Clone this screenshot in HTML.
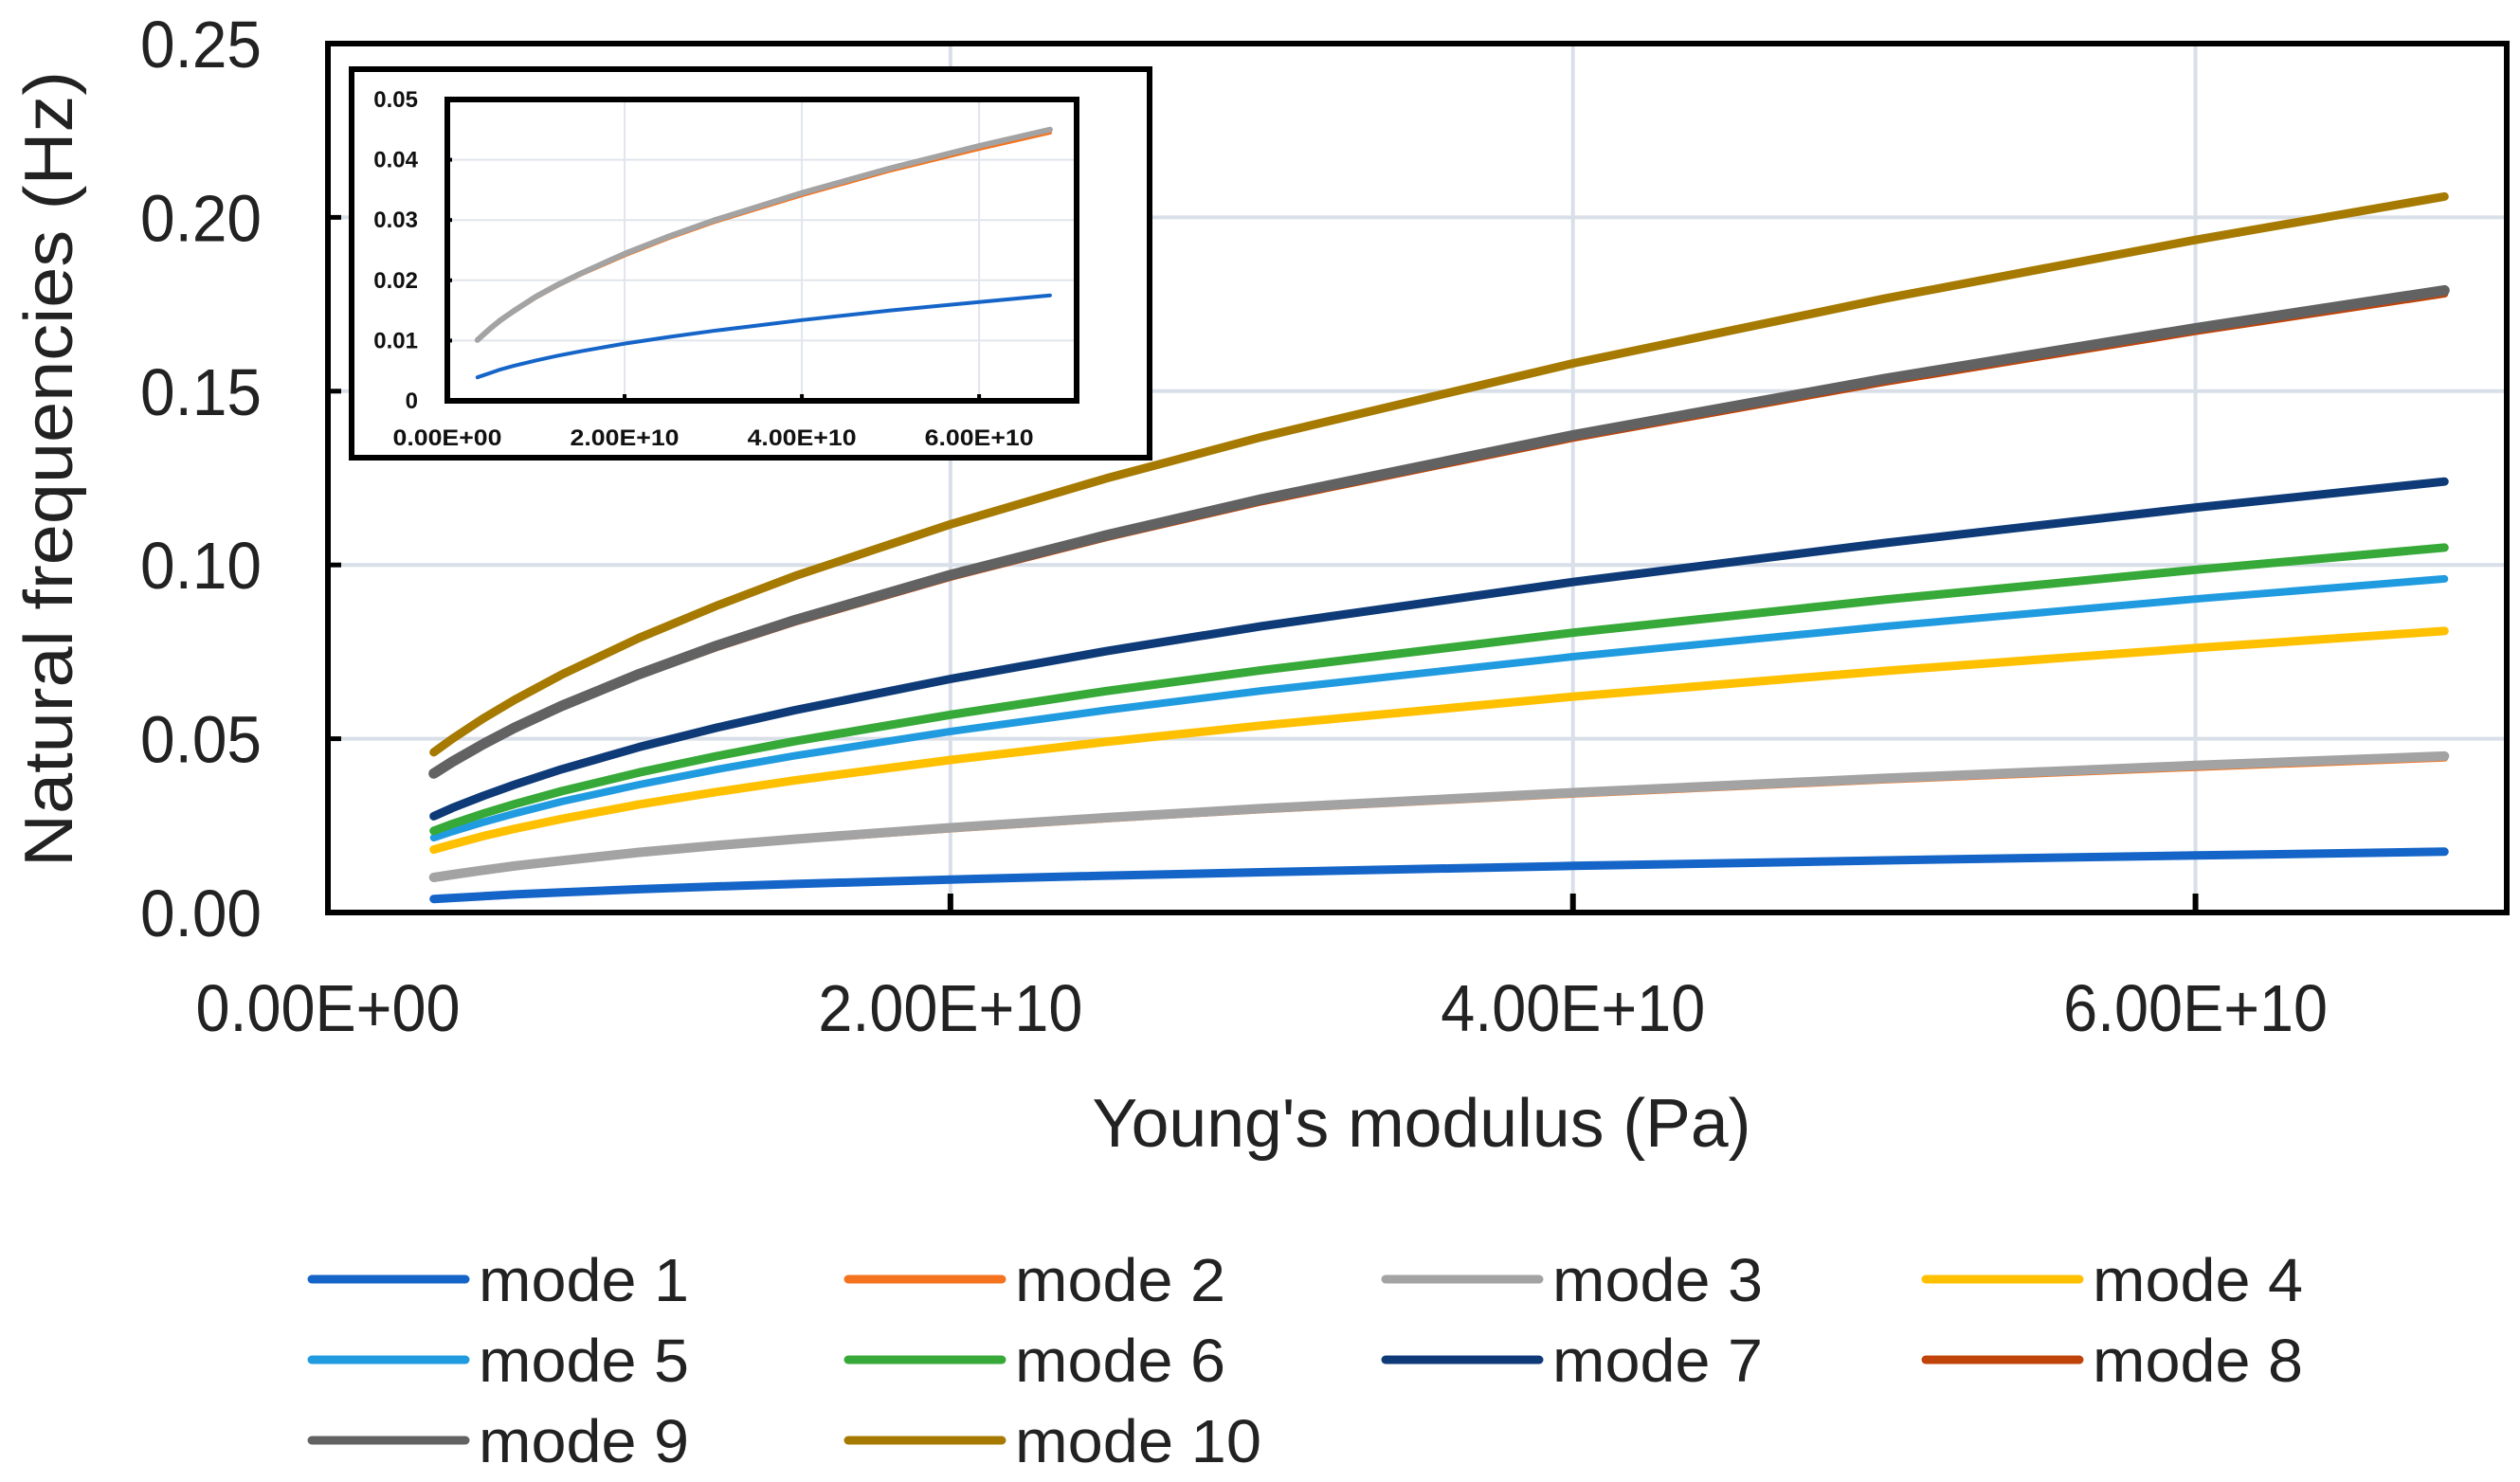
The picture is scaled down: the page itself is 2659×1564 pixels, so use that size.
<!DOCTYPE html>
<html><head><meta charset="utf-8"><style>
html,body{margin:0;padding:0;background:#fff}
svg{display:block;font-family:"Liberation Sans",sans-serif}
</style></head><body>
<svg id="chart" width="2659" height="1564" viewBox="0 0 2659 1564" xmlns="http://www.w3.org/2000/svg">
<g id="main"></g>
<g id="inset"></g>
<g id="legend"></g>
</svg>
<script>
const E = [3.4e9, 4e9, 5e9, 6e9, 7.5e9, 1e10, 1.25e10, 1.5e10, 2e10, 2.5e10, 3e10, 4e10, 5e10, 6e10, 6.8e10];
const seriesNames = ["mode 1","mode 2","mode 3","mode 4","mode 5","mode 6","mode 7","mode 8","mode 9","mode 10"];
const mode1 = [0.0039,0.0042,0.0047,0.0052,0.0058,0.0067,0.0075,0.0082,0.0095,0.0106,0.0116,0.0134,0.0150,0.0164,0.0175];
const mode2 = [0.0100,0.0108,0.0121,0.0132,0.0148,0.0171,0.0191,0.0209,0.0241,0.0270,0.0296,0.0341,0.0382,0.0418,0.0445];
const mode3 = [0.0101,0.0109,0.0122,0.0134,0.0149,0.0173,0.0193,0.0211,0.0244,0.0273,0.0299,0.0345,0.0386,0.0423,0.0450];
const mode4 = [0.0181,0.0196,0.0220,0.0241,0.0269,0.0311,0.0347,0.0380,0.0439,0.0491,0.0538,0.0621,0.0695,0.0761,0.0810];
const mode5 = [0.0215,0.0233,0.0260,0.0285,0.0319,0.0368,0.0412,0.0451,0.0521,0.0582,0.0638,0.0736,0.0823,0.0902,0.0960];
const mode6 = [0.0235,0.0255,0.0285,0.0312,0.0349,0.0403,0.0450,0.0493,0.0569,0.0637,0.0697,0.0805,0.0900,0.0986,0.1050];
const mode7 = [0.0277,0.0301,0.0336,0.0368,0.0412,0.0476,0.0532,0.0582,0.0672,0.0752,0.0824,0.0951,0.1063,0.1165,0.1240];
const mode8 = [0.0398,0.0432,0.0483,0.0529,0.0591,0.0683,0.0763,0.0836,0.0965,0.1079,0.1182,0.1365,0.1526,0.1672,0.1780];
const mode9 = [0.0400,0.0434,0.0485,0.0532,0.0594,0.0686,0.0768,0.0841,0.0971,0.1085,0.1189,0.1373,0.1535,0.1681,0.1790];
const mode10 = [0.0461,0.0500,0.0559,0.0612,0.0684,0.0790,0.0883,0.0968,0.1117,0.1249,0.1368,0.1580,0.1766,0.1935,0.2060];
const yTicks = [0, 0.05, 0.10, 0.15, 0.20, 0.25];
const yTickLabels = ["0.00","0.05","0.10","0.15","0.20","0.25"];
const xTicks = [0, 2e10, 4e10, 6e10];
const xTickLabels = ["0.00E+00","2.00E+10","4.00E+10","6.00E+10"];
const insetYTicks = [0,0.01,0.02,0.03,0.04,0.05];
const insetYTickLabels = ["0","0.01","0.02","0.03","0.04","0.05"];

const allSeries = [mode1,mode2,mode3,mode4,mode5,mode6,mode7,mode8,mode9,mode10];
const colors = ["#1565C8","#F5731F","#A3A3A3","#FFC000","#219BE0","#36A938","#0E3B78","#C0440A","#626262","#A67A00"];
const widths = [9,8,10,9,8,9,9,8,11,9];
const drawOrder = [1,2,0,3,4,5,6,7,8,9];
const NS = "http://www.w3.org/2000/svg";
function mk(tag, attrs, parent){const el=document.createElementNS(NS,tag);for(const k in attrs)el.setAttribute(k,attrs[k]);parent.appendChild(el);return el;}

const L=346,R=2645,T=46,B=963;
const xS=v=>L+(v/7e10)*(R-L);
const yS=v=>B-(v/0.25)*(B-T);
const main=document.getElementById('main');
yTicks.forEach((t,i)=>{ if(i>0){const g=mk('line',{x1:L,x2:R,y1:yS(t),y2:yS(t),stroke:'#D9DFE8','stroke-width':4},main);

}
const tx=mk('text',{x:276,y:yS(t)+25,'text-anchor':'end','font-size':70,fill:'#222',textLength:128,lengthAdjust:'spacingAndGlyphs'},main);tx.textContent=yTickLabels[i];


const tk=mk('line',{x1:L,x2:L+14,y1:yS(t),y2:yS(t),stroke:'#000','stroke-width':5},main);


});
xTicks.forEach((t,i)=>{ if(i>0){const g=mk('line',{x1:xS(t),x2:xS(t),y1:T,y2:B,stroke:'#D9DFE8','stroke-width':4},main);

}
const tx=mk('text',{x:xS(t),y:1088,'text-anchor':'middle','font-size':70,fill:'#222',textLength:279,lengthAdjust:'spacingAndGlyphs'},main);tx.textContent=xTickLabels[i];


const tk=mk('line',{x1:xS(t),x2:xS(t),y1:B,y2:B-20,stroke:'#000','stroke-width':6},main);


});
drawOrder.forEach(si=>{
  const d=E.map((e,j)=>(j?'L':'M')+xS(e).toFixed(1)+' '+yS(allSeries[si][j]).toFixed(1)).join(' ');
  const p=mk('path',{d:d,fill:'none',stroke:colors[si],'stroke-width':widths[si],'stroke-linecap':'round','stroke-linejoin':'round'},main);
  
  
});
const fr=mk('rect',{x:L,y:T,width:R-L,height:B-T,fill:'none',stroke:'#000','stroke-width':6},main);


const xt=mk('text',{x:1500,y:1210,'text-anchor':'middle','font-size':72,fill:'#222',textLength:695,lengthAdjust:'spacingAndGlyphs'},main);xt.textContent="Young's modulus (Pa)";


const yt=mk('text',{x:0,y:0,'text-anchor':'middle','font-size':72,fill:'#222',textLength:840,lengthAdjust:'spacingAndGlyphs',transform:'translate(76,495) rotate(-90)'},main);yt.textContent="Natural frequencies (Hz)";



const inset=document.getElementById('inset');
const bg=mk('rect',{x:371,y:73,width:842,height:410,fill:'#fff',stroke:'#000','stroke-width':6},inset);


const iL=472,iR=1136,iT=105,iB=423;
const ixS=v=>iL+(v/7.1e10)*(iR-iL);
const iyS=v=>iB-(v/0.05)*(iB-iT);
insetYTicks.forEach((t,i)=>{ if(i>0){const g=mk('line',{x1:iL,x2:iR,y1:iyS(t),y2:iyS(t),stroke:'#E1E5EC','stroke-width':2},inset);

}
const tx=mk('text',{x:441,y:iyS(t)+8,'text-anchor':'end','font-size':24,'font-weight':'bold',fill:'#111'},inset);tx.textContent=insetYTickLabels[i];


const tk=mk('line',{x1:iL,x2:iL+5,y1:iyS(t),y2:iyS(t),stroke:'#000','stroke-width':4},inset);


});
xTicks.forEach((t,i)=>{ if(i>0){const g=mk('line',{x1:ixS(t),x2:ixS(t),y1:iT,y2:iB,stroke:'#E1E5EC','stroke-width':2},inset);

}
const tx=mk('text',{x:ixS(t),y:470,'text-anchor':'middle','font-size':24,'font-weight':'bold',fill:'#111',textLength:115,lengthAdjust:'spacingAndGlyphs'},inset);tx.textContent=xTickLabels[i];


const tk=mk('line',{x1:ixS(t),x2:ixS(t),y1:iB,y2:iB-7,stroke:'#000','stroke-width':4},inset);


});
[0,1,2].forEach(si=>{
  const d=E.map((e,j)=>(j?'L':'M')+ixS(e).toFixed(1)+' '+iyS(allSeries[si][j]).toFixed(1)).join(' ');
  const p=mk('path',{d:d,fill:'none',stroke:colors[si],'stroke-width':si===2?6:4,'stroke-linecap':'round','stroke-linejoin':'round'},inset);
  
  
});
const ifr=mk('rect',{x:iL,y:iT,width:iR-iL,height:iB-iT,fill:'none',stroke:'#000','stroke-width':6},inset);



const legend=document.getElementById('legend');
const colX=[329,895,1462,2032], rowY=[1350,1435,1520];
seriesNames.forEach((n,i)=>{
  const c=i%4, r=Math.floor(i/4);
  const g=mk('g',{},legend);
  
  
  mk('line',{x1:colX[c],x2:colX[c]+162,y1:rowY[r],y2:rowY[r],stroke:colors[i],'stroke-width':9,'stroke-linecap':'round'},g);
  const tx=mk('text',{x:colX[c]+176,y:rowY[r]+23,'font-size':64,fill:'#222',textLength:n.length>6?260:222,lengthAdjust:'spacingAndGlyphs'},g);
  tx.textContent=n;
});
</script>
</body></html>
